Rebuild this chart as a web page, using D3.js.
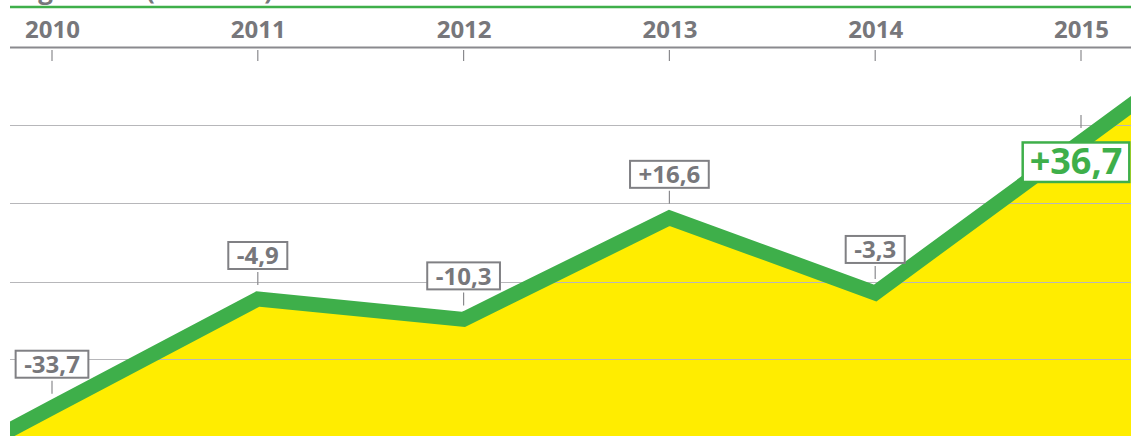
<!DOCTYPE html>
<html>
<head>
<meta charset="utf-8">
<script src="https://cdn.jsdelivr.net/npm/d3@7"></script>
<style>
  html, body { margin: 0; padding: 0; background: #fff; }
  svg { display: block; font-family: "Open Sans", sans-serif; }
</style>
</head>
<body>
<div id="chart-area"></div>
<script>
// Daten
var years = [2010, 2011, 2012, 2013, 2014, 2015];
var values = [-33.7, -4.9, -10.3, 16.6, -3.3, 36.7];
var valueLabels = ["-33,7", "-4,9", "-10,3", "+16,6", "-3,3", "+36,7"];
var gridValues = [-20.7, -0.4, 20.5, 41.2];
var titleParts = ["Ergebnis", "(in Mio. €)"];

var width = 1131, height = 436, left = 10;
var grey = "#77777b", green = "#3eaf4a", yellow = "#ffed00";

var svg = d3.select("#chart-area").append("svg")
    .attr("width", width)
    .attr("height", height);

// Skalen
var x = d3.scaleLinear().domain([2010, 2015]).range([52, 1081]);
var y = d3.scaleLinear().domain([-40, 40]).range([431.5, 129.5]);

// Titel (nur Unterlängen sichtbar, wie im Original abgeschnitten)
var title = svg.append("text")
    .attr("y", -1)
    .attr("fill", grey)
    .style("font-size", "26px")
    .style("font-weight", 700);
title.append("tspan").attr("x", left + 2).text(titleParts[0]);
title.append("tspan").attr("x", 146).text(titleParts[1]);

// grüne Linie oben
svg.append("line")
    .attr("x1", left).attr("x2", width)
    .attr("y1", 7).attr("y2", 7)
    .attr("stroke", green).attr("stroke-width", 2.5);

// Jahresachse
var xAxis = d3.axisTop(x).tickValues(years).tickFormat(d3.format("d")).tickSize(0).tickPadding(0);
var xAxisGroup = svg.append("g").attr("transform", "translate(0,38)").call(xAxis);
xAxisGroup.select(".domain").remove();
xAxisGroup.selectAll("text")
    .attr("dy", 0)
    .attr("fill", grey)
    .style("font-size", "24px")
    .style("font-weight", 700)
    .style("font-family", "'Open Sans', sans-serif");

svg.append("line")
    .attr("x1", left).attr("x2", width)
    .attr("y1", 47.5).attr("y2", 47.5)
    .attr("stroke", "#8a8a8e").attr("stroke-width", 2);

svg.selectAll(".year-tick")
    .data(years)
    .enter().append("line")
    .attr("class", "year-tick")
    .attr("x1", function(d) { return x(d); })
    .attr("x2", function(d) { return x(d); })
    .attr("y1", 50).attr("y2", 61)
    .attr("stroke", "#8a8a8e").attr("stroke-width", 1.2);

// Plotbereich mit Clip
svg.append("clipPath").attr("id", "plot-clip")
    .append("rect")
    .attr("x", left).attr("y", 0)
    .attr("width", width - left).attr("height", height);

var plot = svg.append("g").attr("clip-path", "url(#plot-clip)");

// Punkte, erstes und letztes Segment bis an den Rand verlängert
var pts = years.map(function(d, i) { return [d, values[i]]; });
var n = pts.length;
var yLeft = x.invert(0), yRight = x.invert(width + 20);
var firstSlope = (values[1] - values[0]) / (years[1] - years[0]);
var lastSlope = (values[n - 1] - values[n - 2]) / (years[n - 1] - years[n - 2]);
var ext = [[yLeft, values[0] + (yLeft - years[0]) * firstSlope]]
    .concat(pts)
    .concat([[yRight, values[n - 1] + (yRight - years[n - 1]) * lastSlope]]);

var area = d3.area()
    .x(function(d) { return x(d[0]); })
    .y0(height + 10)
    .y1(function(d) { return y(d[1]); });

var line = d3.line()
    .x(function(d) { return x(d[0]); })
    .y(function(d) { return y(d[1]); });

plot.append("path")
    .datum(ext)
    .attr("d", area)
    .attr("fill", yellow);

// Gitterlinien
plot.selectAll(".grid")
    .data(gridValues)
    .enter().append("line")
    .attr("class", "grid")
    .attr("x1", left).attr("x2", width)
    .attr("y1", function(d) { return Math.round(y(d)) + 0.5; })
    .attr("y2", function(d) { return Math.round(y(d)) + 0.5; })
    .attr("stroke", "#b7b7ba").attr("stroke-width", 1);

plot.append("path")
    .datum(ext)
    .attr("d", line)
    .attr("fill", "none")
    .attr("stroke", green)
    .attr("stroke-width", 15)
    .attr("stroke-linejoin", "miter");

// Wertelabels
var labels = svg.append("g");
pts.forEach(function(p, i) {
    var px = x(p[0]), py = y(p[1]);
    labels.append("line")
        .attr("x1", px).attr("x2", px)
        .attr("y1", py - 27).attr("y2", py - 14)
        .attr("stroke", "#8a8a8e").attr("stroke-width", 1.2);

    var last = i === n - 1;
    var g = labels.append("g");
    var rect = g.append("rect").attr("fill", "#fff");
    var t = g.append("text")
        .attr("text-anchor", "middle")
        .attr("fill", last ? green : grey)
        .style("font-size", last ? "36px" : "24px")
        .style("font-weight", 700)
        .text(valueLabels[i]);
    var w = t.node().getComputedTextLength();
    if (!last) {
        var bottom = py - 30;
        t.attr("x", px).attr("y", bottom - 4.5);
        rect.attr("x", px - w / 2 - 8.5).attr("y", bottom - 27)
            .attr("width", w + 17).attr("height", 27)
            .attr("stroke", "#808084").attr("stroke-width", 2);
    } else {
        var cx = px - 5;
        t.attr("x", cx).attr("y", py + 32.5);
        rect.attr("x", cx - w / 2 - 7).attr("y", py + 0.5)
            .attr("width", w + 14).attr("height", 39.5)
            .attr("stroke", green).attr("stroke-width", 2.5);
    }
});
</script>
</body>
</html>
